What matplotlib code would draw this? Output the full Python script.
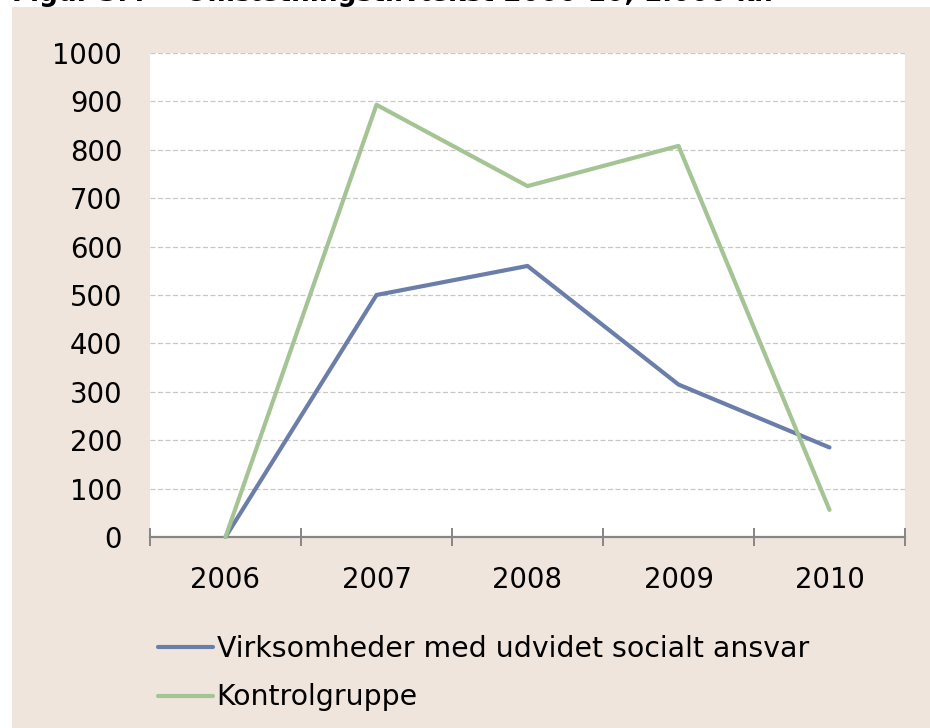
import matplotlib
matplotlib.use("Agg")
import matplotlib.pyplot as plt
from matplotlib.patches import Rectangle
from matplotlib.ticker import FixedLocator, MultipleLocator

years = ["2006", "2007", "2008", "2009", "2010"]
virksomheder = [0, 500, 560, 315, 185]
kontrolgruppe = [0, 893, 725, 808, 56]
series_names = ["Virksomheder med udvidet socialt ansvar", "Kontrolgruppe"]
title_num = "Figur 3.4"
title_txt = "Omsætningstilvækst 2006-10, 1.000 kr."

W, H = 930, 728
fig = plt.figure(figsize=(W / 100, H / 100), dpi=100)
fig.patch.set_facecolor("white")
bg = "#efe5dc"
fig.patches.append(Rectangle((12 / W, 0), 1 - 12 / W, 1 - 7 / H, transform=fig.transFigure,
                             facecolor=bg, edgecolor="none", zorder=-10))

fig.text(12 / W, 1 - 1 / H, title_num, fontsize=19, fontweight="bold", va="baseline", ha="left")
fig.text(185 / W, 1 - 1 / H, title_txt, fontsize=19, fontweight="bold", va="baseline", ha="left")

ax = fig.add_axes([150 / W, 1 - 537 / H, 755 / W, 484 / H])
ax.set_zorder(1)
ax.set_facecolor("white")
x = list(range(len(years)))
blue = "#6a7ea9"
green = "#a4c494"
l1, = ax.plot(x, virksomheder, color=blue, lw=3.0, solid_capstyle="round", zorder=3, clip_on=False)
l2, = ax.plot(x, kontrolgruppe, color=green, lw=3.0, solid_capstyle="round", zorder=3, clip_on=False)

ax.set_xlim(-0.5, len(years) - 0.5)
ax.set_ylim(0, 1000)
ax.yaxis.set_major_locator(MultipleLocator(100))
ax.grid(axis="y", color="#c8c8c8", linestyle=(0, (4, 2)), linewidth=0.9)
ax.set_axisbelow(True)
for s in ["left", "right", "top"]:
    ax.spines[s].set_visible(False)
ax.spines["bottom"].set_color("#868686")
ax.spines["bottom"].set_linewidth(1.6)

ax.set_xticks(x)
ax.set_xticklabels(years)
ax.xaxis.set_minor_locator(FixedLocator([i - 0.5 for i in range(len(years) + 1)]))
ax.tick_params(axis="x", which="major", length=0, pad=21, labelsize=19.8)
ax.tick_params(axis="x", which="minor", direction="inout", length=13, width=1.4, color="#868686")
ax.tick_params(axis="y", which="major", length=0, pad=20, labelsize=19.8)

leg = fig.legend([l1, l2], series_names, loc="center left",
                 bbox_to_anchor=(158 / W, 1 - 673 / H), frameon=False, fontsize=20.4,
                 borderpad=0, borderaxespad=0, handlelength=1.95, handletextpad=0.12,
                 labelspacing=0.74)
for h in leg.get_lines():
    h.set_linewidth(3.0)

fig.savefig("out.png", dpi=100, facecolor="white")
